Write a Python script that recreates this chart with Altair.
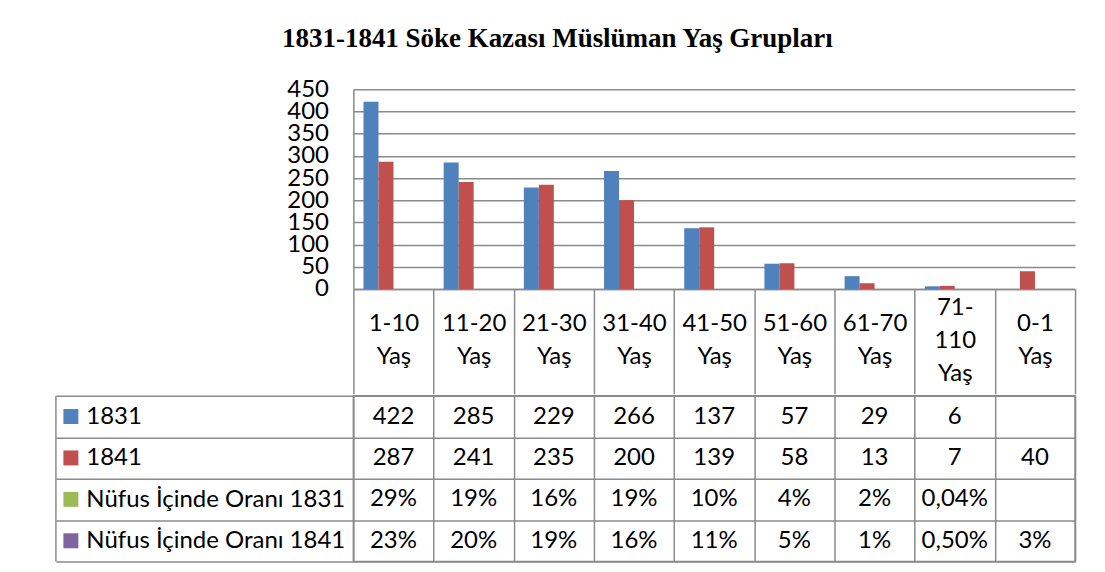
import altair as alt
import pandas as pd

# ---- data ----
title_text = "1831-1841 Söke Kazası Müslüman Yaş Grupları"
categories = ["1-10 Yaş", "11-20 Yaş", "21-30 Yaş", "31-40 Yaş", "41-50 Yaş",
              "51-60 Yaş", "61-70 Yaş", "71-110 Yaş", "0-1 Yaş"]
series = ["1831", "1841", "Nüfus İçinde Oranı 1831", "Nüfus İçinde Oranı 1841"]
colors = ["#4F81BD", "#C0504D", "#9BBB59", "#8064A2"]
values_1831 = [422, 285, 229, 266, 137, 57, 29, 6, None]
values_1841 = [287, 241, 235, 200, 139, 58, 13, 7, 40]
share_1831 = ["29%", "19%", "16%", "19%", "10%", "4%", "2%", "0,04%", ""]
share_1841 = ["23%", "20%", "19%", "16%", "11%", "5%", "1%", "0,50%", "3%"]
y_ticks = [0, 50, 100, 150, 200, 250, 300, 350, 400, 450]

FONT = "Lato"
GRID = "#8A8A8A"
W = 723

# bar data
bar_rows = []
for s, vals in (("1831", values_1831), ("1841", values_1841)):
    for c, v in zip(categories, vals):
        if v is not None:
            bar_rows.append({"cat": c, "series": s, "value": v})
bar_df = pd.DataFrame(bar_rows)

# table data
table_rows = []
for s, vals in zip(series, [values_1831, values_1841, share_1831, share_1841]):
    for c, v in zip(categories, vals):
        txt = "" if v is None else str(v)
        table_rows.append({"cat": c, "row": s, "text": txt})
table_df = pd.DataFrame(table_rows)
sw_df = pd.DataFrame({"row": series})

x_scale = alt.Scale(domain=categories, paddingInner=0, paddingOuter=0)
color_scale = alt.Scale(domain=series, range=colors)

bars = alt.Chart(bar_df).mark_bar().encode(
    x=alt.X("cat:N", sort=categories, scale=x_scale,
            axis=alt.Axis(title=None, orient="bottom", tickBand="extent", tickSize=105,
                          tickColor=GRID, tickWidth=1.5, domainColor=GRID, domainWidth=1.5,
                          labelAngle=0, labelAlign="center", labelFont=FONT, labelFontSize=24,
                          labelColor="black",
                          labelPadding={"condition": {"test": "datum.label == '71-110 Yaş'", "value": -86},
                                        "value": -70},
                          labelBaseline="middle",
                          labelLineHeight=33, labelOverlap=False, labelBound=False,
                          labelFlush=False,
                          labelExpr="datum.label == '71-110 Yaş' ? ['71-', '110', 'Yaş'] : split(datum.label, ' ')")),
    xOffset=alt.XOffset("series:N", scale=alt.Scale(domain=series, paddingInner=0, paddingOuter=0.675)),
    y=alt.Y("value:Q", scale=alt.Scale(domain=[0, 450], nice=False),
            axis=alt.Axis(title=None, values=y_ticks, grid=True, gridColor=GRID, gridWidth=1.5,
                          ticks=False, domainColor=GRID, domainWidth=1.5, labelPadding=25,
                          labelOverlap=False, labelFont=FONT, labelFontSize=24,
                          labelColor="black")),
    color=alt.Color("series:N", scale=color_scale, legend=None),
).properties(width=W, height=200, view=alt.ViewBackground(stroke="transparent"))

y_table = alt.Y("row:N", sort=series,
                scale=alt.Scale(domain=series, paddingInner=0, paddingOuter=0),
                axis=alt.Axis(title=None, grid=True, tickBand="extent", gridColor=GRID,
                              gridWidth=1.5, ticks=True, tickSize=298, tickColor=GRID,
                              tickWidth=1.5, domain=False, labelAlign="left", labelPadding=-30,
                              labelLimit=400, labelOverlap=False,
                              labelFont=FONT, labelFontSize=24, labelColor="black",
                              labelBaseline="middle"))

cells = alt.Chart(table_df).mark_text(font=FONT, fontSize=24, color="black", baseline="middle").encode(
    x=alt.X("cat:N", sort=categories, scale=x_scale,
            axis=alt.Axis(title=None, labels=False, ticks=False, domain=False, grid=True,
                          tickBand="extent", gridColor=GRID, gridWidth=1.5)),
    y=y_table,
    text="text:N",
)

swatches = alt.Chart(sw_df).mark_square(size=225, opacity=1).encode(
    x=alt.value(-283),
    y=y_table,
    color=alt.Color("row:N", scale=color_scale, legend=None),
)

left_line = alt.Chart(pd.DataFrame({"k": [0]})).mark_rule(color=GRID, strokeWidth=1.5).encode(
    x=alt.value(-298), y=alt.value(0), y2=alt.value(166)
)

table = alt.layer(cells, swatches, left_line).properties(
    width=W, height=166, view=alt.ViewBackground(stroke=GRID, strokeWidth=1.5)
)

chart = alt.vconcat(bars, table, spacing=-15).properties(
    title=alt.TitleParams(text=title_text, font="Liberation Serif", fontSize=27,
                          fontWeight="bold", color="black", anchor="middle", offset=24, dx=-8),
    padding={"left": 46, "top": 16, "right": 20, "bottom": 5},
).configure(font=FONT)

chart.save("out.html", embed_options={"renderer": "svg", "actions": False})
